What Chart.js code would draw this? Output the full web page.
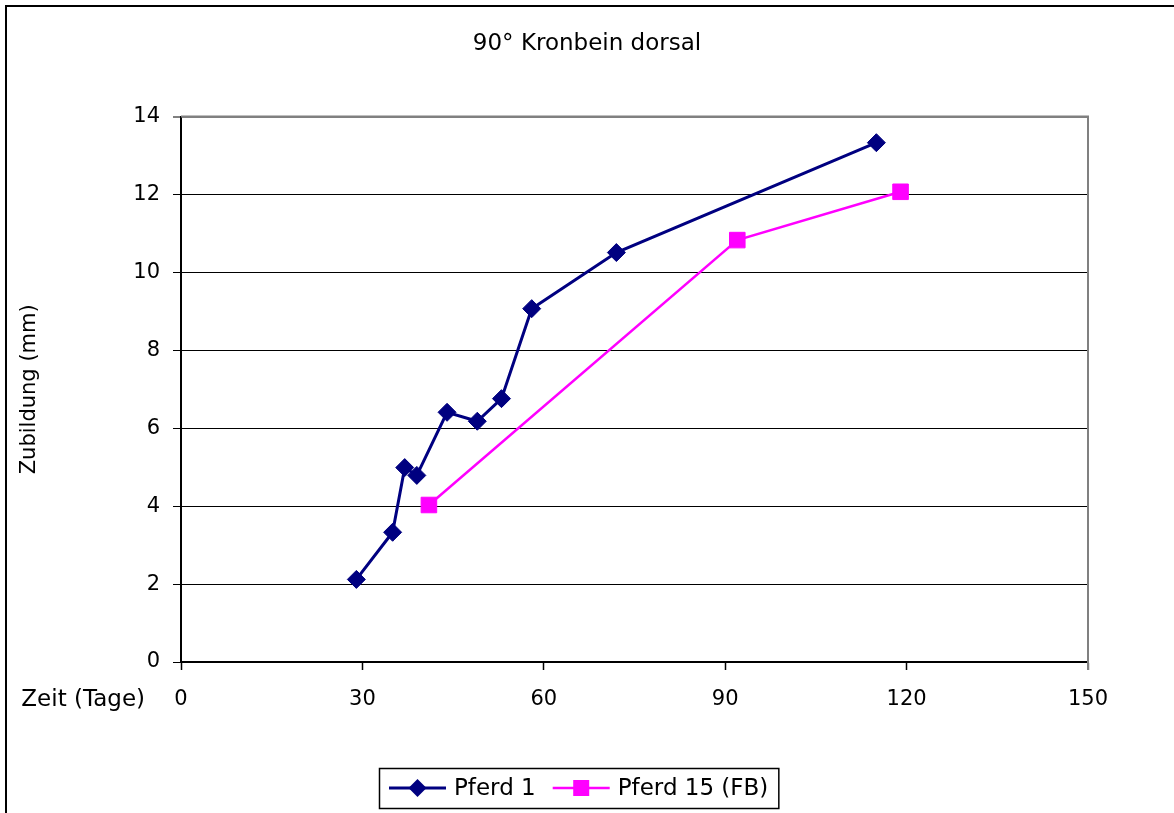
<!DOCTYPE html>
<html>
<head>
<meta charset="utf-8">
<script src="https://cdn.jsdelivr.net/npm/chart.js@4/dist/chart.umd.min.js"></script>
<style>
  html, body { margin: 0; padding: 0; background: #fff; }
  #wrap { position: relative; width: 1174px; height: 813px; }
</style>
</head>
<body>
<div id="wrap"><canvas id="c" width="1174" height="813"></canvas></div>
<script>
// ---- data ----
const chartTitle = '90° Kronbein dorsal';
const yAxisTitle = 'Zubildung (mm)';
const xAxisTitle = 'Zeit (Tage)';
const seriesNames = ['Pferd 1', 'Pferd 15 (FB)'];
const pferd1Days = [29, 35, 37, 39, 44, 49, 53, 58, 72, 115];
const pferd1Values = [2.12, 3.33, 4.99, 4.79, 6.41, 6.18, 6.76, 9.07, 10.51, 13.33];
const pferd15Days = [41, 92, 119];
const pferd15Values = [4.03, 10.83, 12.07];
const xTicks = [0, 30, 60, 90, 120, 150];
const yTicks = [0, 2, 4, 6, 8, 10, 12, 14];

const FONT = 'DejaVu Sans';
const NAVY = '#000080';
const MAGENTA = '#FF00FF';

function toPoints(xs, ys) { return xs.map((x, i) => ({ x: x, y: ys[i] })); }

const frameAndExtras = {
  id: 'frameAndExtras',
  beforeDraw(chart) {
    const ctx = chart.ctx;
    ctx.save();
    ctx.fillStyle = '#fff';
    ctx.fillRect(0, 0, chart.width, chart.height);
    ctx.strokeStyle = '#000';
    ctx.lineWidth = 2;
    ctx.beginPath();
    ctx.moveTo(6, chart.height);
    ctx.lineTo(6, 6);
    ctx.lineTo(chart.width, 6);
    ctx.stroke();
    ctx.restore();
  },
  beforeDatasetsDraw(chart) {
    const ctx = chart.ctx, a = chart.chartArea;
    ctx.save();
    ctx.strokeStyle = '#808080';
    ctx.lineWidth = 2;
    ctx.beginPath();
    ctx.moveTo(a.left, a.top);
    ctx.lineTo(a.right, a.top);
    ctx.lineTo(a.right, a.bottom + 8);
    ctx.stroke();
    ctx.restore();
  },
  afterDraw(chart) {
    const ctx = chart.ctx, a = chart.chartArea;
    ctx.save();
    // x axis caption, left of the tick labels
    ctx.font = '23px "' + FONT + '"';
    ctx.fillStyle = '#000';
    ctx.textAlign = 'right';
    ctx.textBaseline = 'middle';
    ctx.fillText(xAxisTitle, a.left - 36, a.bottom + 38);

    // legend
    const markerW = 57, gap1 = 8, gap2 = 17, pad = 10;
    ctx.font = '23px "' + FONT + '"';
    const w1 = ctx.measureText(seriesNames[0]).width;
    const w2 = ctx.measureText(seriesNames[1]).width;
    const total = pad + markerW + gap1 + w1 + gap2 + markerW + gap1 + w2 + pad;
    const cx = 578.5;
    const left = Math.round(cx - total / 2);
    const top = 768, h = 40, cy = top + h / 2;
    ctx.strokeStyle = '#000';
    ctx.lineWidth = 1.5;
    ctx.strokeRect(left + 0.5, top + 0.5, total, h);

    let x = left + pad;
    // item 1
    ctx.strokeStyle = NAVY; ctx.lineWidth = 3;
    ctx.beginPath(); ctx.moveTo(x, cy); ctx.lineTo(x + markerW, cy); ctx.stroke();
    ctx.fillStyle = NAVY;
    const mx1 = x + markerW / 2;
    ctx.beginPath();
    ctx.moveTo(mx1, cy - 9); ctx.lineTo(mx1 + 9, cy); ctx.lineTo(mx1, cy + 9); ctx.lineTo(mx1 - 9, cy);
    ctx.closePath(); ctx.fill();
    x += markerW + gap1;
    ctx.fillStyle = '#000'; ctx.textAlign = 'left';
    ctx.fillText(seriesNames[0], x, cy + 1);
    x += w1 + gap2;
    // item 2
    ctx.strokeStyle = MAGENTA; ctx.lineWidth = 2.5;
    ctx.beginPath(); ctx.moveTo(x, cy); ctx.lineTo(x + markerW, cy); ctx.stroke();
    ctx.fillStyle = MAGENTA;
    const mx2 = x + markerW / 2;
    ctx.fillRect(mx2 - 8, cy - 8, 16, 16);
    x += markerW + gap1;
    ctx.fillStyle = '#000';
    ctx.fillText(seriesNames[1], x, cy + 1);
    ctx.restore();
  }
};

new Chart(document.getElementById('c'), {
  type: 'line',
  data: {
    datasets: [
      {
        label: seriesNames[0],
        data: toPoints(pferd1Days, pferd1Values),
        borderColor: NAVY,
        backgroundColor: NAVY,
        borderWidth: 3,
        pointStyle: 'rectRot',
        pointRadius: 9,
        pointBorderWidth: 1,
        pointBackgroundColor: NAVY,
        pointBorderColor: NAVY,
        tension: 0
      },
      {
        label: seriesNames[1],
        data: toPoints(pferd15Days, pferd15Values),
        borderColor: MAGENTA,
        backgroundColor: MAGENTA,
        borderWidth: 2.5,
        pointStyle: 'rect',
        pointRadius: 11,
        pointBorderWidth: 1,
        pointBackgroundColor: MAGENTA,
        pointBorderColor: MAGENTA,
        tension: 0
      }
    ]
  },
  options: {
    responsive: false,
    animation: false,
    devicePixelRatio: 1,
    layout: { padding: { left: 0, right: 0, top: 0, bottom: 0 } },
    plugins: {
      legend: { display: false },
      tooltip: { enabled: false },
      title: {
        display: true,
        text: chartTitle,
        color: '#000',
        font: { family: FONT, size: 23, weight: 'normal' },
        padding: { top: 30, bottom: 59 }
      }
    },
    scales: {
      x: {
        type: 'linear',
        min: xTicks[0],
        max: xTicks[xTicks.length - 1],
        afterBuildTicks: (s) => { s.ticks = xTicks.map(v => ({ value: v })); },
        afterFit: (s) => { s.height = 151; s.paddingRight = 86; },
        border: { display: true, color: '#000', width: 2 },
        grid: {
          drawOnChartArea: false,
          drawTicks: true,
          tickLength: 8,
          tickColor: (c) => c.tick && c.tick.value === 150 ? '#808080' : '#000',
          tickWidth: 1.5
        },
        ticks: {
          color: '#000',
          font: { family: FONT, size: 21 },
          padding: 17,
          maxRotation: 0,
          autoSkip: false
        }
      },
      y: {
        type: 'linear',
        min: yTicks[0],
        max: yTicks[yTicks.length - 1],
        afterBuildTicks: (s) => { s.ticks = yTicks.map(v => ({ value: v })); },
        afterFit: (s) => { s.width = 181; },
        border: { display: true, color: '#000', width: 2 },
        grid: {
          color: (c) => c.tick && c.tick.value === 14 ? '#808080' : '#000',
          lineWidth: (c) => c.tick && c.tick.value === 14 ? 2 : 1,
          tickColor: '#000',
          tickLength: 8,
          tickWidth: 1
        },
        ticks: {
          color: '#000',
          font: { family: FONT, size: 21 },
          padding: 13
        },
        title: {
          display: true,
          text: yAxisTitle,
          color: '#000',
          font: { family: FONT, size: 21 },
          padding: { top: 17, bottom: 0 }
        }
      }
    }
  },
  plugins: [frameAndExtras]
});
</script>
</body>
</html>
